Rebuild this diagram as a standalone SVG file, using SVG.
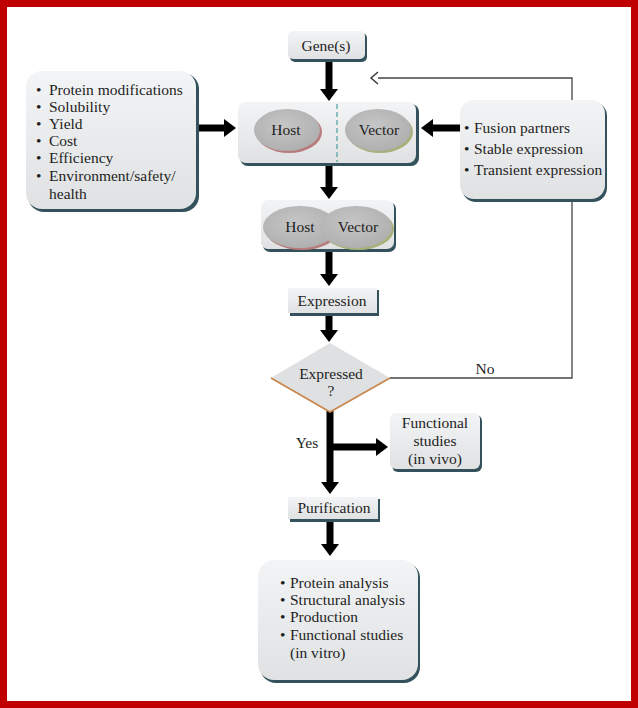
<svg xmlns="http://www.w3.org/2000/svg" width="638" height="708" viewBox="0 0 638 708">
<defs>
<linearGradient id="boxg" x1="0" y1="0" x2="0" y2="1">
<stop offset="0" stop-color="#f3f4f5"/><stop offset="1" stop-color="#dfe1e2"/>
</linearGradient>
<radialGradient id="ellg" cx="0.45" cy="0.4" r="0.7">
<stop offset="0" stop-color="#c6c6c6"/><stop offset="1" stop-color="#acacac"/>
</radialGradient>
<marker id="ah" markerUnits="userSpaceOnUse" viewBox="0 0 12 18" markerWidth="12" markerHeight="18" refX="1" refY="9" orient="auto">
<path d="M0,0 L12,9 L0,18 z" fill="#000"/>
</marker>
<marker id="open" markerUnits="userSpaceOnUse" viewBox="0 0 10 14" markerWidth="10" markerHeight="14" refX="1" refY="7" orient="auto">
<path d="M1,1 L8,7 L1,13" fill="none" stroke="#333" stroke-width="1.4"/>
</marker>
</defs>
<style>
text{font-family:"Liberation Serif","Times New Roman",serif;font-size:15.5px;fill:#1e1e1e}
.c{text-anchor:middle}
.sh{fill:#34525c}
.bx{fill:url(#boxg)}
.th{stroke:#000;stroke-width:7;fill:none}
.ln{stroke:#444;stroke-width:1.3;fill:none}
.el{fill:url(#ellg)}
</style>
<rect x="3.5" y="3.5" width="631" height="701" fill="#fff" stroke="#c00000" stroke-width="7"/>

<g id="connectors">
<line class="th" x1="329" y1="60" x2="329" y2="90" marker-end="url(#ah)"/>
<line class="th" x1="197" y1="128" x2="225" y2="128" marker-end="url(#ah)"/>
<line class="th" x1="460" y1="128" x2="432" y2="128" marker-end="url(#ah)"/>
<line class="th" x1="329" y1="166" x2="329" y2="188" marker-end="url(#ah)"/>
<line class="th" x1="329" y1="252" x2="329" y2="275" marker-end="url(#ah)"/>
<line class="th" x1="329" y1="315" x2="329" y2="331" marker-end="url(#ah)"/>
<line class="th" x1="330" y1="411" x2="330" y2="483" marker-end="url(#ah)"/>
<line class="th" x1="330" y1="447" x2="377" y2="447" marker-end="url(#ah)"/>
<line class="th" x1="330" y1="521" x2="330" y2="545" marker-end="url(#ah)"/>
<polyline class="ln" points="572,100 572,78 378,78" marker-end="url(#open)"/>
<polyline class="ln" points="572,200 572,378 390,378"/>
<text class="c" x="485" y="374">No</text>
<text class="c" x="307" y="448">Yes</text>
</g>

<g id="gene">
<rect class="sh" x="290" y="33" width="77" height="29" rx="5"/>
<rect class="bx" x="288" y="31" width="77" height="28" rx="5"/>
<text class="c" x="326" y="51">Gene(s)</text>
</g>

<g id="criteria">
<rect class="sh" x="28" y="73" width="171" height="139" rx="16"/>
<rect class="bx" x="26" y="71" width="170" height="138" rx="16"/>
<text x="36" y="95">•</text><text x="49" y="95">Protein modifications</text>
<text x="36" y="112">•</text><text x="49" y="112">Solubility</text>
<text x="36" y="129">•</text><text x="49" y="129">Yield</text>
<text x="36" y="146">•</text><text x="49" y="146">Cost</text>
<text x="36" y="163">•</text><text x="49" y="163">Efficiency</text>
<text x="36" y="181">•</text><text x="49" y="181">Environment/safety/</text>
<text x="49" y="199">health</text>
</g>

<g id="hostvector">
<rect class="sh" x="240" y="104" width="179" height="62" rx="8"/>
<rect class="bx" x="238" y="102" width="178" height="61" rx="8"/>
<line x1="337" y1="104" x2="337" y2="162" stroke="#5aa6a6" stroke-width="1.3" stroke-dasharray="5,3"/>
<ellipse cx="289" cy="132" rx="33" ry="21" fill="#b97a7a"/>
<ellipse cx="287" cy="130" rx="33" ry="21" class="el"/>
<text class="c" x="286" y="135">Host</text>
<ellipse cx="380" cy="132" rx="33" ry="21" fill="#a8b07a"/>
<ellipse cx="378" cy="130" rx="33" ry="21" class="el"/>
<text class="c" x="379" y="135">Vector</text>
</g>

<g id="options">
<rect class="sh" x="462" y="102" width="145" height="100" rx="14"/>
<rect class="bx" x="460" y="100" width="145" height="99" rx="14"/>
<text x="464" y="133">•</text><text x="474" y="133">Fusion partners</text>
<text x="464" y="154">•</text><text x="474" y="154">Stable expression</text>
<text x="464" y="175">•</text><text x="474" y="175">Transient expression</text>
</g>

<g id="combined">
<rect class="sh" x="263" y="202" width="133" height="50" rx="7"/>
<rect class="bx" x="261" y="200" width="133" height="49" rx="7"/>
<ellipse cx="302" cy="229" rx="37" ry="21" fill="#b97a7a"/>
<ellipse cx="300" cy="227" rx="37" ry="21" class="el"/>
<ellipse cx="358" cy="229" rx="36" ry="21" fill="#a8b07a"/>
<ellipse cx="356" cy="227" rx="36" ry="21" class="el"/>
<text class="c" x="300" y="232">Host</text>
<text class="c" x="358" y="232">Vector</text>
</g>

<g id="expression">
<rect class="sh" x="290" y="290" width="89" height="26"/>
<rect class="bx" x="288" y="288" width="89" height="25"/>
<text class="c" x="332" y="306">Expression</text>
</g>

<g id="decision">
<polygon points="330,343 390,378 330,412 271,378" fill="#dfe0e1"/>
<polyline points="271,378 330,412 390,378" fill="none" stroke="#c8864a" stroke-width="1.6"/>
<text class="c" x="331" y="379">Expressed</text>
<text class="c" x="331" y="396">?</text>
</g>

<g id="invivo">
<rect class="sh" x="392" y="415" width="90" height="57" rx="6"/>
<rect class="bx" x="390" y="413" width="90" height="56" rx="6"/>
<text class="c" x="435" y="428">Functional</text>
<text class="c" x="435" y="446">studies</text>
<text class="c" x="435" y="464">(in vivo)</text>
</g>

<g id="purification">
<rect class="sh" x="290" y="499" width="90" height="23"/>
<rect class="bx" x="288" y="497" width="90" height="22"/>
<text class="c" x="334" y="513">Purification</text>
</g>

<g id="applications">
<rect class="sh" x="260" y="562" width="160" height="121" rx="16"/>
<rect class="bx" x="258" y="560" width="160" height="120" rx="16"/>
<text x="280" y="588">•</text><text x="290" y="588">Protein analysis</text>
<text x="280" y="605">•</text><text x="290" y="605">Structural analysis</text>
<text x="280" y="622">•</text><text x="290" y="622">Production</text>
<text x="280" y="640">•</text><text x="290" y="640">Functional studies</text>
<text x="290" y="658">(in vitro)</text>
</g>
</svg>
